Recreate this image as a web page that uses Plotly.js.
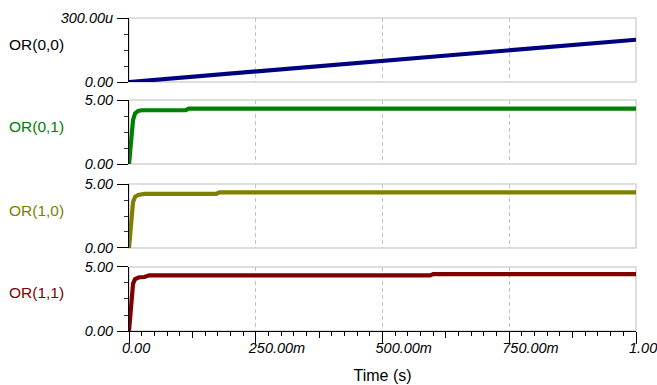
<!DOCTYPE html>
<html>
<head>
<meta charset="utf-8">
<script src="https://cdn.plot.ly/plotly-3.0.1.min.js"></script>
<style>html,body{margin:0;padding:0;background:#fff;}#chart{width:657px;height:385px;}</style>
</head>
<body>
<div id="chart"></div>
<script>
// ---- data ----
const seriesNames = ['OR(0,0)', 'OR(0,1)', 'OR(1,0)', 'OR(1,1)'];
const seriesColors = ['#000080', '#008000', '#808000', '#800000'];

const t00 = [0, 0.1, 0.2, 0.3, 0.4, 0.5, 0.6, 0.7, 0.8, 0.9, 1.0];
const or00 = [0, 20e-6, 40e-6, 59e-6, 79e-6, 99e-6, 119e-6, 139e-6, 158e-6, 178e-6, 198e-6];

const t01 = [0, 0.004, 0.008, 0.012, 0.018, 0.025, 0.112, 0.118, 1.0];
const or01 = [0, 2.1, 3.45, 3.95, 4.15, 4.2, 4.2, 4.32, 4.32];

const t10 = [0, 0.004, 0.008, 0.012, 0.018, 0.03, 0.172, 0.178, 1.0];
const or10 = [0, 2.1, 3.6, 4.0, 4.15, 4.23, 4.23, 4.35, 4.35];

const t11 = [0, 0.004, 0.008, 0.012, 0.02, 0.03, 0.04, 0.594, 0.6, 1.0];
const or11 = [0, 2.2, 3.7, 4.05, 4.2, 4.22, 4.35, 4.35, 4.45, 4.45];

const xTickVals = [0, 0.25, 0.5, 0.75, 1.0];
const xTickText = ['0.00', '250.00m', '500.00m', '750.00m', '1.00'];
const xMidTicks = [0.125, 0.375, 0.625, 0.875];

const y0TickVals = [0, 300e-6];
const y0TickText = ['0.00', '300.00u'];
const y0Minor = [75e-6, 150e-6, 225e-6];
const yTickVals = [0, 5];
const yTickText = ['0.00', '5.00'];
const yMinor = [1.25, 2.5, 3.75];

const xs = [t00, t01, t10, t11];
const ys = [or00, or01, or10, or11];

// ---- traces ----
const traces = xs.map((x, i) => ({
  type: 'scatter', mode: 'lines', x: x, y: ys[i],
  xaxis: i === 0 ? 'x' : 'x' + (i + 1),
  yaxis: i === 0 ? 'y' : 'y' + (i + 1),
  line: {color: seriesColors[i], width: 4.2},
  hoverinfo: 'skip', showlegend: false
}));
traces.push({type: 'scatter', mode: 'lines', x: [0, 1], y: [null, null], xaxis: 'x5', yaxis: 'y4', showlegend: false, hoverinfo: 'skip'});

const FONT = 'Liberation Sans, Arial, sans-serif';
const tickFont = {family: FONT, size: 14.5, style: 'italic', color: '#000'};

// panel domains (paper fractions, top to bottom)
const domains = [[0.7955, 1.0], [0.5335, 0.738], [0.2652, 0.4696], [0, 0.2045]];

const layout = {
  width: 657, height: 385,
  margin: {l: 129, r: 21, t: 18, b: 54},
  paper_bgcolor: '#fff', plot_bgcolor: '#fff',
  font: {family: FONT, color: '#000'},
  showlegend: false,
  shapes: [], annotations: []
};

for (let i = 0; i < 4; i++) {
  const xn = i === 0 ? 'xaxis' : 'xaxis' + (i + 1);
  const yn = i === 0 ? 'yaxis' : 'yaxis' + (i + 1);
  const xr = i === 0 ? 'x' : 'x' + (i + 1);
  const yr = i === 0 ? 'y' : 'y' + (i + 1);
  const isBottom = i === 3;
  layout[xn] = {
    domain: [0, 1], anchor: yr, range: [0, 1], fixedrange: true,
    tickmode: 'array',
    tickvals: isBottom ? xTickVals : xTickVals.slice(1, 4),
    ticktext: isBottom ? xTickText : xTickText.slice(1, 4),
    showticklabels: isBottom,
    ticks: isBottom ? 'outside' : '', ticklen: 12, tickwidth: 1, tickcolor: '#000',
    showgrid: true, gridcolor: '#c4c4c4', griddash: '4px,3px', gridwidth: 1,
    zeroline: false,
    showline: isBottom, linecolor: '#000', linewidth: 1,
    tickfont: tickFont,
    ticklabelposition: 'outside right', ticklabelshift: -8, ticklabelstandoff: 4,
    ticklabeloverflow: 'allow'
  };
  if (isBottom) {
    layout[xn].minor = {dtick: 0.025, tick0: 0, ticks: 'outside', ticklen: 4, tickwidth: 1, tickcolor: '#000', showgrid: false};
    layout[xn].title = {text: 'Time (s)', font: {family: FONT, size: 16, color: '#000'}, standoff: 14};
  }
  layout[yn] = {
    domain: domains[i], anchor: xr, fixedrange: true,
    range: i === 0 ? [0, 300e-6] : [0, 5],
    tickmode: 'array',
    tickvals: i === 0 ? y0TickVals : yTickVals,
    ticktext: i === 0 ? y0TickText : yTickText,
    ticks: 'outside', ticklen: 11, tickwidth: 1, tickcolor: '#000',
    minor: {tickmode: 'array', tickvals: i === 0 ? y0Minor : yMinor, ticks: 'outside', ticklen: 4, tickwidth: 1, tickcolor: '#333', showgrid: false},
    showgrid: false, zeroline: false,
    showline: true, linecolor: '#000', linewidth: 1,
    tickfont: tickFont, ticklabelstandoff: 1, ticklabeloverflow: 'allow'
  };
  layout.shapes.push({
    type: 'rect', xref: xr + ' domain', yref: yr + ' domain',
    x0: 0, x1: 1, y0: 0, y1: 1,
    line: {color: '#d4d4d4', width: 1.5}, layer: 'below'
  });
  layout.annotations.push({
    xref: 'paper', yref: yr + ' domain', x: 0, y: 0.5,
    xanchor: 'left', yanchor: 'middle', xshift: -122, yshift: 6,
    text: seriesNames[i], showarrow: false,
    font: {family: FONT, size: 15.5, color: i === 0 ? '#000' : seriesColors[i]}
  });
}

layout.xaxis5 = {
  overlaying: 'x4', anchor: 'y4', side: 'bottom', range: [0, 1], fixedrange: true,
  tickmode: 'array', tickvals: xMidTicks, showticklabels: false,
  ticks: 'outside', ticklen: 6, tickwidth: 1, tickcolor: '#000',
  showgrid: false, zeroline: false, showline: false
};

Plotly.newPlot('chart', traces, layout, {staticPlot: true, displayModeBar: false});
</script>
</body>
</html>
